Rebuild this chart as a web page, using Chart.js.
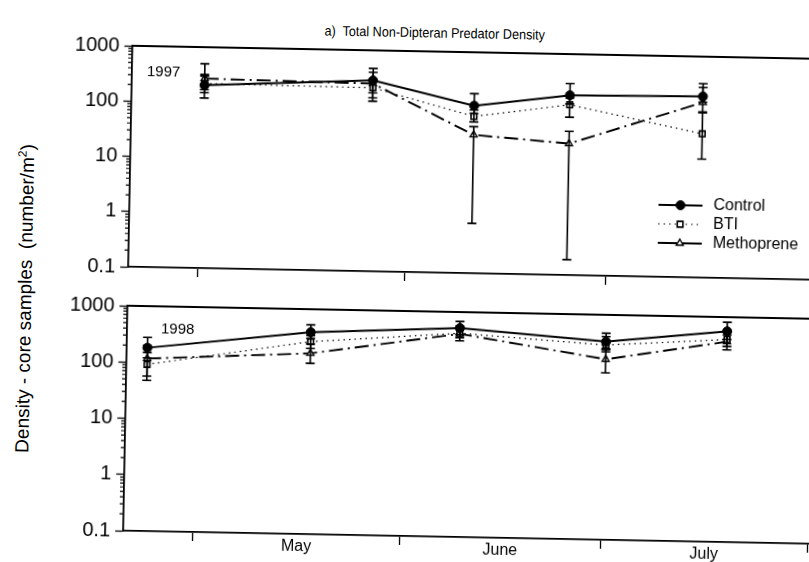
<!DOCTYPE html>
<html lang="en">
<head>
<meta charset="UTF-8">
<title>Total Non-Dipteran Predator Density</title>
<script src="https://cdn.jsdelivr.net/npm/chart.js"></script>
<style>
  body { margin: 0; background: #fff; overflow: hidden; width: 809px; height: 562px; position: relative; }
  /* the scanned figure is tilted about 1 degree clockwise */
  #sheet { position: absolute; left: 0; top: 0; width: 860px; height: 580px;
           transform-origin: 404.5px 281px; transform: rotate(1.09deg); }
  #sheet canvas { position: absolute; left: 0; }
  #title { position: absolute; left: 0; top: 24px; width: 860px; text-align: center;
           font: 14px/16px "Liberation Sans", Arial, sans-serif; color: #000;
           transform: scaleX(0.9); transform-origin: 430px 0; }
  #ytitle { position: absolute; left: 23px; top: 303px; width: 360px; margin-left: -180px; margin-top: -11px;
            text-align: center; white-space: pre; transform: rotate(-90deg);
            font: 19px/22px "Liberation Sans", Arial, sans-serif; color: #000; }
</style>
</head>
<body>
<div id="sheet">
  <div id="title">a)&nbsp; Total Non-Dipteran Predator Density</div>
  <div id="ytitle">Density - core samples  (number/m<sup style="font-size:12px">2</sup>)</div>
  <canvas id="chart1997" width="860" height="290" style="top:0"></canvas>
  <canvas id="chart1998" width="860" height="285" style="top:290px"></canvas>
</div>

<script>
// x is days counted from May 1
const monthNames = ['May', 'June', 'July'];
const monthStarts = [0, 31, 61, 92];
const monthMids = [15.5, 46, 76.5];
const yTicks = [0.1, 1, 10, 100, 1000];
const seriesNames = ['Control', 'BTI', 'Methoprene'];

// 1997
const days1997 = [0.5, 25.7, 40.9, 55.2, 75.1];
const control1997 = [205, 285, 108, 180, 190];
const bti1997 = [220, 210, 69, 121, 40];
const metho1997 = [270, 250, 32, 24, 148];
const control1997Lo = [120, 120, 78, 125, 150];
const control1997Hi = [320, 400, 178, 292, 324];
const bti1997Lo = [150, 138, 55, 72, 14];
const bti1997Hi = [300, 300, 90, 160, 96];
const metho1997Lo = [170, 170, 0.8, 0.19, 100];
const metho1997Hi = [500, 470, 45, 40, 278];

// 1998
const days1998 = [-7.3, 17.1, 39.4, 61.3, 79.4];
const control1998 = [182, 390, 518, 333, 560];
const bti1998 = [92, 265, 420, 290, 400];
const metho1998 = [117, 164, 410, 162, 366];
const control1998Lo = [120, 300, 400, 250, 400];
const control1998Hi = [279, 527, 680, 471, 810];
const bti1998Lo = [48, 200, 350, 220, 300];
const bti1998Hi = [150, 340, 560, 410, 540];
const metho1998Lo = [57, 109, 308, 93, 262];
const metho1998Hi = [200, 240, 520, 240, 480];

const SANS = '"Liberation Sans", Arial, sans-serif';

const styles = [
  { borderColor: '#000', borderWidth: 2, borderDash: [], pointStyle: 'circle', pointRadius: 4.5,
    pointBackgroundColor: '#000', pointBorderColor: '#000', pointBorderWidth: 1 },
  { borderColor: '#000', borderWidth: 1.2, borderDash: [1.5, 4], pointStyle: 'rect', pointRadius: 4,
    pointBackgroundColor: '#fff', pointBorderColor: '#000', pointBorderWidth: 1.6 },
  { borderColor: '#000', borderWidth: 1.9, borderDash: [14, 5, 2, 5], pointStyle: 'triangle', pointRadius: 4,
    pointBackgroundColor: '#fff', pointBorderColor: '#000', pointBorderWidth: 1.4 }
];

// error bars, top border of the frame, minor log ticks, year text
const extras = {
  id: 'extras',
  afterDatasetsDraw(chart) {
    const ctx = chart.ctx, ys = chart.scales.y;
    ctx.save();
    ctx.strokeStyle = '#000';
    ctx.lineWidth = 1.6;
    chart.data.datasets.forEach((ds, i) => {
      chart.getDatasetMeta(i).data.forEach((pt, j) => {
        const a = ys.getPixelForValue(ds.errLo[j]);
        const b = ys.getPixelForValue(ds.errHi[j]);
        ctx.beginPath();
        ctx.moveTo(pt.x, a); ctx.lineTo(pt.x, b);
        ctx.moveTo(pt.x - 4.5, a); ctx.lineTo(pt.x + 4.5, a);
        ctx.moveTo(pt.x - 4.5, b); ctx.lineTo(pt.x + 4.5, b);
        ctx.stroke();
      });
    });
    ctx.restore();
  },
  afterDraw(chart, args, opts) {
    const ctx = chart.ctx, area = chart.chartArea, ys = chart.scales.y;
    ctx.save();
    ctx.strokeStyle = '#000';
    ctx.lineWidth = 1.8;
    ctx.beginPath();
    ctx.moveTo(area.left, area.top); ctx.lineTo(chart.width, area.top);
    ctx.stroke();
    ctx.lineWidth = 1.2;
    ctx.beginPath();
    for (let k = -1; k < 3; k++) {
      for (let m = 2; m <= 9; m++) {
        const y = ys.getPixelForValue(m * Math.pow(10, k));
        ctx.moveTo(area.left - 4, y); ctx.lineTo(area.left, y);
      }
    }
    ctx.stroke();
    ctx.fillStyle = '#000';
    ctx.font = '15px ' + SANS;
    ctx.textBaseline = 'middle';
    ctx.fillText(opts.year, opts.yearX, opts.yearY);

    if (opts.legend) {
      ctx.font = '16px ' + SANS;
      chart.data.datasets.forEach((ds, i) => {
        const y = opts.legendY + i * 19;
        ctx.save();
        ctx.lineWidth = ds.borderWidth;
        ctx.setLineDash(i === 1 ? [1.5, 4] : []);
        ctx.beginPath();
        ctx.moveTo(657, y); ctx.lineTo(701, y);
        ctx.stroke();
        ctx.restore();
        ctx.save();
        ctx.fillStyle = ds.pointBackgroundColor;
        ctx.strokeStyle = ds.pointBorderColor;
        ctx.lineWidth = ds.pointBorderWidth;
        Chart.helpers.drawPoint(ctx, { pointStyle: ds.pointStyle, radius: ds.pointRadius, borderWidth: ds.pointBorderWidth }, 679, y);
        ctx.restore();
        ctx.fillText(ds.label, 712, y);
      });
    }
    ctx.restore();
  }
};

function makeChart(id, days, values, lows, highs, opts) {
  const datasets = seriesNames.map((name, i) => Object.assign({
    label: name,
    data: days.map((d, j) => ({ x: d, y: values[i][j] })),
    errLo: lows[i],
    errHi: highs[i],
    fill: false,
    tension: 0
  }, styles[i]));

  return new Chart(document.getElementById(id), {
    type: 'line',
    data: { datasets: datasets },
    options: {
      responsive: false,
      animation: false,
      devicePixelRatio: 1,
      layout: { padding: opts.padding },
      plugins: {
        legend: { display: false },
        tooltip: { enabled: false },
        extras: opts.extras
      },
      scales: {
        x: {
          type: 'linear',
          min: -10.4,
          max: 98.3,
          afterBuildTicks: (s) => {
            s.ticks = monthStarts.concat(monthMids).sort((a, b) => a - b).map(v => ({ value: v }));
          },
          afterFit: (s) => { s.height = opts.xHeight; },
          grid: {
            drawOnChartArea: false,
            tickLength: 9,
            tickWidth: 1.3,
            tickColor: (c) => (c.tick && monthStarts.includes(c.tick.value)) ? '#000' : 'rgba(0,0,0,0)'
          },
          border: { color: '#000', width: 1.8 },
          ticks: {
            display: opts.showMonths,
            padding: -6,
            color: '#000',
            font: { family: SANS, size: 16 },
            autoSkip: false,
            maxRotation: 0,
            callback: (v) => {
              const k = monthMids.indexOf(v);
              return k >= 0 ? monthNames[k] : '';
            }
          }
        },
        y: {
          type: 'logarithmic',
          min: 0.1,
          max: 1000,
          afterBuildTicks: (s) => { s.ticks = yTicks.map(v => ({ value: v })); },
          afterFit: (s) => { s.width = 128; },
          grid: { drawOnChartArea: false, tickLength: 8, tickWidth: 1.3, tickColor: '#000' },
          border: { color: '#000', width: 1.8 },
          ticks: {
            color: '#000',
            padding: 5,
            font: { family: SANS, size: 20 },
            callback: (v) => String(v)
          }
        }
      }
    },
    plugins: [extras]
  });
}

// top panel: plot area 51..272, bottom panel: plot area 311..536 (before tilt)
makeChart('chart1997', days1997,
  [control1997, bti1997, metho1997],
  [control1997Lo, bti1997Lo, metho1997Lo],
  [control1997Hi, bti1997Hi, metho1997Hi],
  { padding: { top: 51, bottom: 9, left: 0, right: 0 }, showMonths: false, xHeight: 9,
    extras: { year: '1997', yearX: 143, yearY: 77, legend: true, legendY: 200 } });

makeChart('chart1998', days1998,
  [control1998, bti1998, metho1998],
  [control1998Lo, bti1998Lo, metho1998Lo],
  [control1998Hi, bti1998Hi, metho1998Hi],
  { padding: { top: 21, bottom: 16, left: 0, right: 0 }, showMonths: true, xHeight: 23,
    extras: { year: '1998', yearX: 162, yearY: 44, legend: false } });
</script>
</body>
</html>
